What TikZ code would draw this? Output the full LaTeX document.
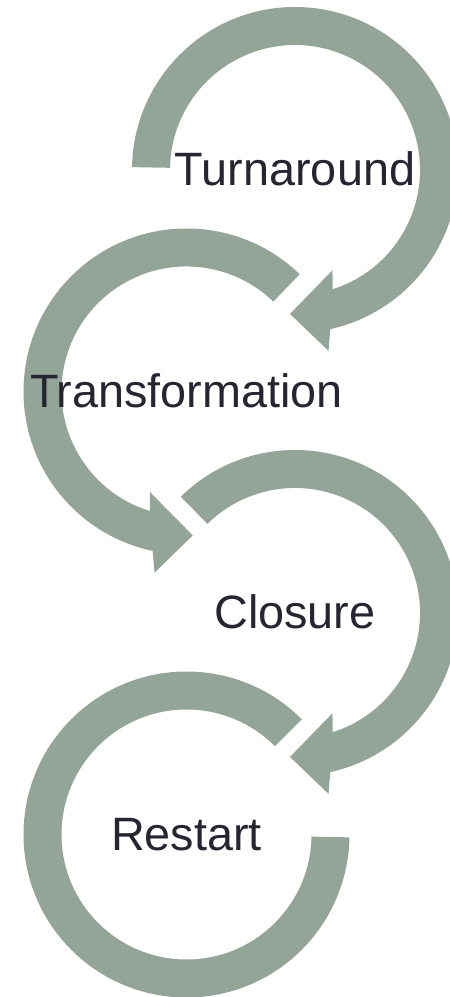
\documentclass[tikz,border=0pt]{standalone}
\usepackage{fontspec}
\setmainfont{Liberation Sans}
\definecolor{ringgreen}{RGB}{147,164,153}
\definecolor{labeltext}{RGB}{38,38,50}

\begin{document}
\begin{tikzpicture}[x=1pt, y=1pt,
    ring/.style={fill=ringgreen, draw=none},
    label/.style={font=\fontsize{46.8}{56}\selectfont, text=labeltext, inner sep=0pt, anchor=base}
]
    % ring sizes
    \def\rout{163}
    \def\rin{125}
    \useasboundingbox (0,0) rectangle (450,997);

    % ring centres
    \coordinate (cturn)  at (295,827);
    \coordinate (ctrans) at (186.5,605.5);
    \coordinate (cclos)  at (295,384);
    \coordinate (crest)  at (186.5,162.5);

    % Turnaround: clockwise, head at the bottom
    \fill[ring] ([shift={(cturn)}]179:\rout) arc[start angle=179, end angle=-77.5, radius=\rout]
        -- ([shift={(cturn)}]-79.5:184) -- ([shift={(cturn)}]-92:144) -- ([shift={(cturn)}]-69.5:107)
        -- ([shift={(cturn)}]-72.5:\rin) arc[start angle=-72.5, end angle=179, radius=\rin] -- cycle;

    % Transformation: counter-clockwise, head at the bottom
    \fill[ring] ([shift={(ctrans)}]46:\rout) arc[start angle=46, end angle=258, radius=\rout]
        -- ([shift={(ctrans)}]260:184) -- ([shift={(ctrans)}]272.5:144) -- ([shift={(ctrans)}]250:107)
        -- ([shift={(ctrans)}]253:\rin) arc[start angle=253, end angle=46, radius=\rin] -- cycle;

    % Closure: clockwise, head at the bottom
    \fill[ring] ([shift={(cclos)}]134.5:\rout) arc[start angle=134.5, end angle=-77.5, radius=\rout]
        -- ([shift={(cclos)}]-79.5:184) -- ([shift={(cclos)}]-92:144) -- ([shift={(cclos)}]-69.5:107)
        -- ([shift={(cclos)}]-72.5:\rin) arc[start angle=-72.5, end angle=134.5, radius=\rin] -- cycle;

    % Restart: open ring, no head
    \fill[ring] ([shift={(crest)}]45:\rout) arc[start angle=45, end angle=359, radius=\rout]
        -- ([shift={(crest)}]359:\rin) arc[start angle=359, end angle=45, radius=\rin] -- cycle;

    % labels
    \node[label] (turn)  at ([yshift=-16pt]cturn)  {Turnaround};
    \node[label] (trans) at ([yshift=-16pt]ctrans) {Transformation};
    \node[label] (clos)  at ([yshift=-16pt]cclos)  {Closure};
    \node[label] (rest)  at ([yshift=-16pt]crest)  {Restart};

\end{tikzpicture}
\end{document}
